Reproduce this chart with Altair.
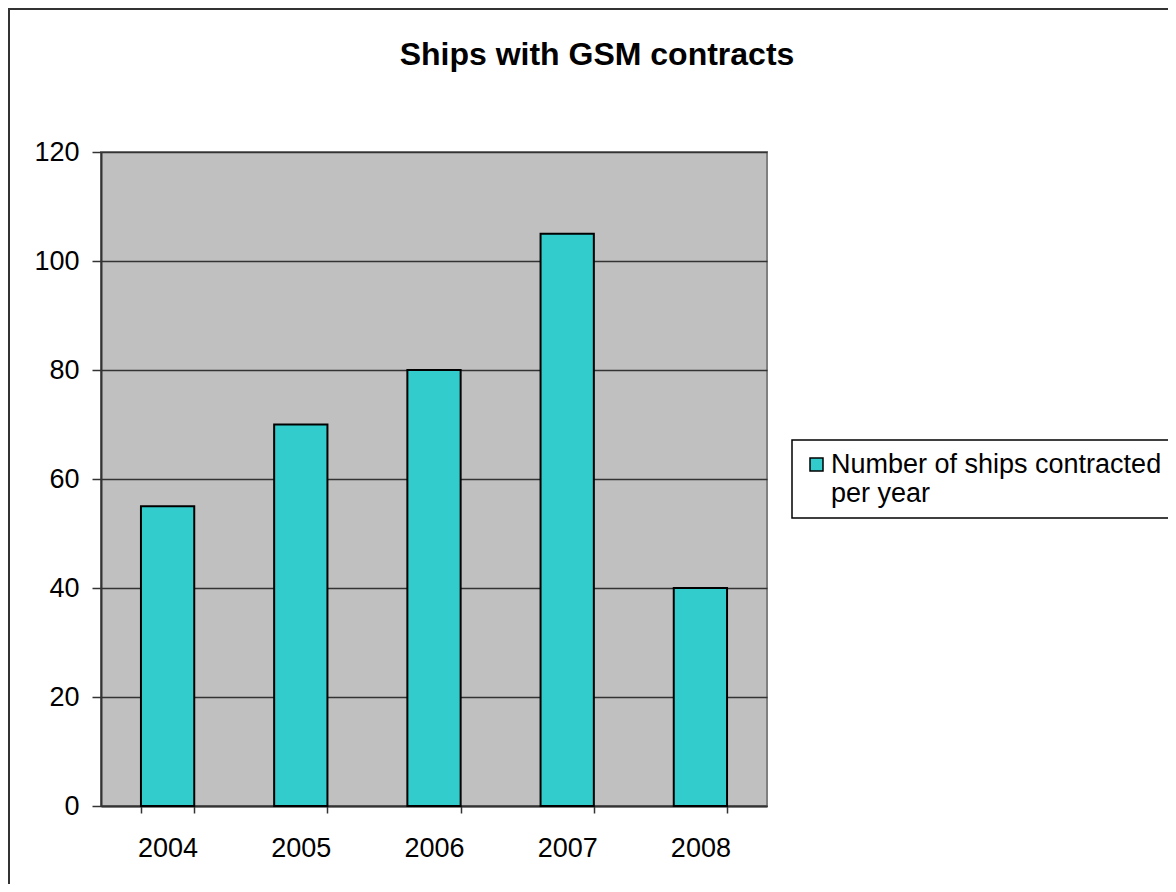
import altair as alt
import pandas as pd

years = ["2004", "2005", "2006", "2007", "2008"]
counts = [55, 70, 80, 105, 40]
series_name = "Number of ships contracted per year"
title_text = "Ships with GSM contracts"

df = pd.DataFrame({"year": years, "count": counts, "series": [series_name] * len(years)})

FONT = "Liberation Sans"

bars = alt.Chart(df).mark_bar(stroke="black", strokeWidth=2).encode(
    x=alt.X(
        "year:N",
        sort=years,
        title=None,
        scale=alt.Scale(paddingInner=0.6, paddingOuter=0.3),
        axis=alt.Axis(
            labelAngle=0,
            tickBand="extent",
            grid=False,
            domainColor="#333333",
            domainWidth=2,
            tickColor="#333333",
            tickWidth=1.5,
            tickSize=7,
            labelPadding=22,
            labelFontSize=27,
            labelFont=FONT,
            labelColor="black",
        ),
    ),
    y=alt.Y(
        "count:Q",
        title=None,
        scale=alt.Scale(domain=[0, 120], nice=False),
        axis=alt.Axis(
            values=[0, 20, 40, 60, 80, 100, 120],
            grid=True,
            gridColor="#333333",
            gridWidth=1.5,
            domainColor="#333333",
            domainWidth=2,
            tickColor="#333333",
            tickWidth=1.5,
            tickSize=9,
            labelPadding=13,
            labelFontSize=27,
            labelFont=FONT,
            labelColor="black",
        ),
    ),
    color=alt.Color(
        "series:N",
        scale=alt.Scale(range=["#33CCCC"]),
        legend=alt.Legend(
            title=None,
            orient="none",
            legendX=691,
            legendY=288,
            padding=11,
            fillColor="white",
            strokeColor="black",
            symbolType="square",
            symbolSize=169,
            symbolStrokeColor="black",
            symbolStrokeWidth=1.5,
            labelFontSize=27,
            labelFont=FONT,
            labelColor="black",
            labelLimit=1000,
            labelOffset=1,
            labelExpr="['Number of ships contracted', 'per year']",
        ),
    ),
)

frame_left = alt.Chart(alt.Data(values=[{}])).mark_rule(color="#333333", strokeWidth=2).encode(
    x=alt.value(-92), y=alt.value(-143), y2=alt.value(732)
)
frame_top = alt.Chart(alt.Data(values=[{}])).mark_rule(color="#333333", strokeWidth=2).encode(
    y=alt.value(-143), x=alt.value(-93), x2=alt.value(1067)
)

chart = alt.layer(bars, frame_left, frame_top).properties(
    width=666,
    height=654,
    background="white",
    padding={"left": 93, "top": 144, "right": 401, "bottom": 78},
    autosize=alt.AutoSizeParams(type="none"),
    title=alt.TitleParams(
        text=title_text,
        font=FONT,
        fontSize=32,
        fontWeight="bold",
        color="black",
        anchor="middle",
        frame="group",
        dx=163,
        offset=-96,
        baseline="bottom",
    ),
).configure_view(
    fill="#C0C0C0", stroke="#808080", strokeWidth=2
).configure_legend(strokeWidth=1.5)

chart.save("out.html", embed_options={"renderer": "svg", "actions": False})
